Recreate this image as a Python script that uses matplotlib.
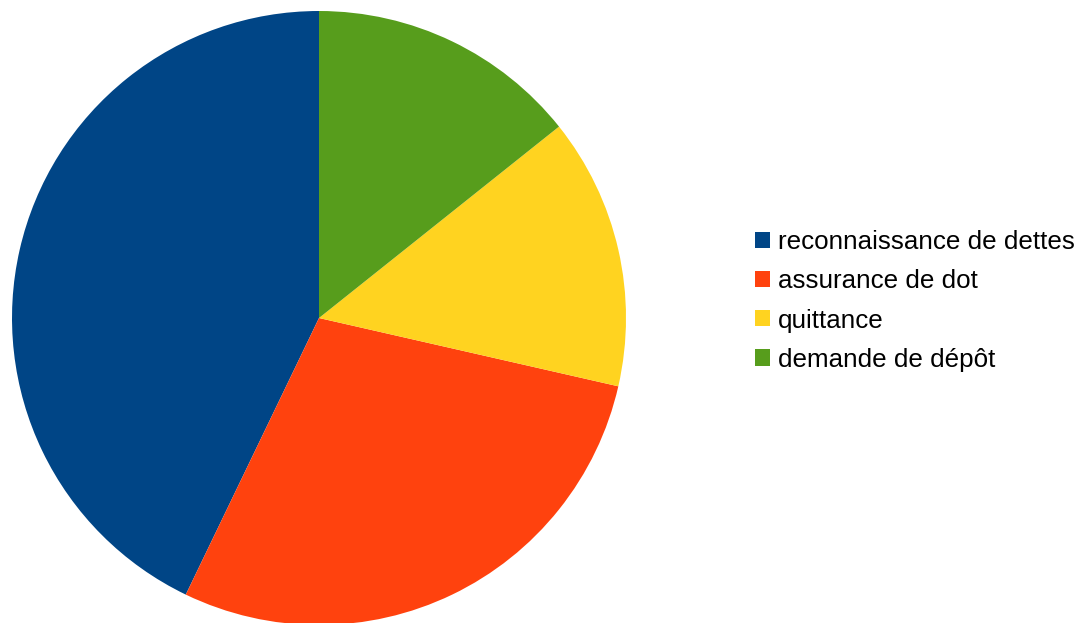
import matplotlib.pyplot as plt

labels = ['reconnaissance de dettes', 'assurance de dot', 'quittance', 'demande de dépôt']
values = [3, 2, 1, 1]
colors = ['#004586', '#ff420e', '#ffd320', '#579d1c']

plt.rcParams['font.family'] = ['Liberation Sans', 'DejaVu Sans']

fig = plt.figure(figsize=(10.9, 6.23), dpi=100)
# pie: centre ~ (319, 318) px, radius ~307 px
ax = fig.add_axes([12 / 1090, -2 / 623, 614 / 1090, 614 / 623])
wedges, _ = ax.pie(values, colors=colors, startangle=90, counterclock=True,
                   radius=1.0, wedgeprops=dict(linewidth=0))
ax.set_xlim(-1, 1)
ax.set_ylim(-1, 1)
ax.set_aspect('equal')
ax.axis('off')

fig.legend(wedges, labels, loc='center left', bbox_to_anchor=(755 / 1090, 1 - 301 / 623),
           frameon=False, fontsize=18.7, handlelength=0.58, handleheight=0.58,
           handletextpad=0.3, labelspacing=0.58, borderaxespad=0, borderpad=0)

fig.savefig('out.png', dpi=100)
